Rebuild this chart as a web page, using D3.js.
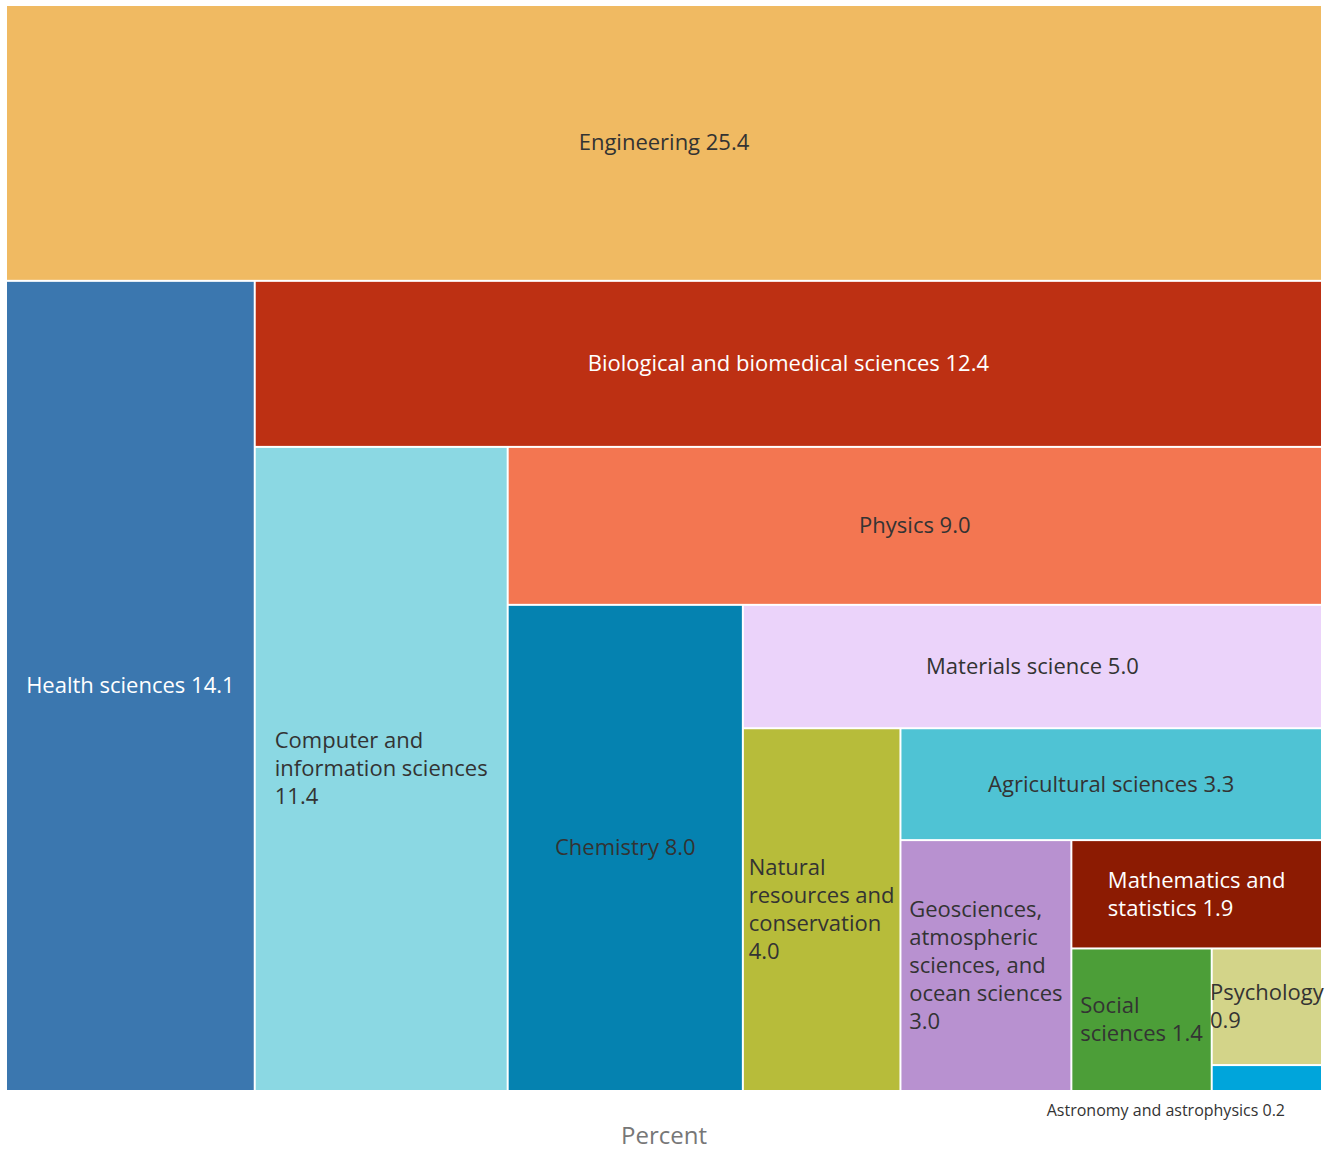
<!DOCTYPE html>
<html>
<head>
<meta charset="utf-8">
<script src="https://cdn.jsdelivr.net/npm/d3@7"></script>
<style>
  html, body { margin: 0; padding: 0; background: #fff; }
  svg { display: block; font-family: "Open Sans", "Noto Sans", sans-serif; }
</style>
</head>
<body>
<svg id="chart" width="1334" height="1151"></svg>
<script>
const categories = [
  "Engineering",
  "Health sciences",
  "Biological and biomedical sciences",
  "Computer and information sciences",
  "Physics",
  "Chemistry",
  "Materials science",
  "Natural resources and conservation",
  "Agricultural sciences",
  "Geosciences, atmospheric sciences, and ocean sciences",
  "Mathematics and statistics",
  "Social sciences",
  "Psychology",
  "Astronomy and astrophysics"
];
const values = [25.4, 14.1, 12.4, 11.4, 9.0, 8.0, 5.0, 4.0, 3.3, 3.0, 1.9, 1.4, 0.9, 0.2];
const axisTitle = "Percent";

const palette = ["#F0BA62", "#3B77AF", "#BD3013", "#8BD8E3", "#F37651", "#0582B0", "#EBD3FA",
                 "#B7BC3A", "#4FC3D4", "#B891D0", "#8C1B02", "#4C9E38", "#D3D489", "#00A5DB"];
const lightText = new Set(["Health sciences", "Biological and biomedical sciences", "Mathematics and statistics"]);

const W = 1314, H = 1084, OX = 7, OY = 6;

// Alternating strip tiling: each item takes a strip (top, then left, then top...) of the remaining area
function alternatingTile(parent, x0, y0, x1, y1) {
  const nodes = parent.children;
  let remaining = parent.value;
  nodes.forEach((node, i) => {
    if (i === nodes.length - 1) {
      node.x0 = x0; node.y0 = y0; node.x1 = x1; node.y1 = y1;
      return;
    }
    const k = node.value / remaining;
    if (i % 2 === 0) {
      const h = (y1 - y0) * k;
      node.x0 = x0; node.x1 = x1; node.y0 = y0; node.y1 = y0 + h;
      y0 += h;
    } else {
      const w = (x1 - x0) * k;
      node.y0 = y0; node.y1 = y1; node.x0 = x0; node.x1 = x0 + w;
      x0 += w;
    }
    remaining -= node.value;
  });
}

const data = { name: "root", children: categories.map((c, i) => ({ name: c, value: values[i], idx: i })) };
const root = d3.hierarchy(data).sum(d => d.value || 0);
d3.treemap().size([W, H]).tile(alternatingTile).paddingInner(2).round(false)(root);

const color = d3.scaleOrdinal().domain(categories).range(palette);

const svg = d3.select("#chart");
const g = svg.append("g").attr("transform", `translate(${OX},${OY})`);

const cells = g.selectAll("g.cell").data(root.leaves()).join("g").attr("class", "cell");
cells.append("rect")
  .attr("x", d => d.x0).attr("y", d => d.y0)
  .attr("width", d => Math.max(0, d.x1 - d.x0))
  .attr("height", d => Math.max(0, d.y1 - d.y0))
  .attr("fill", d => color(d.data.name));

const FS = 22, LH = 28;
const measurer = svg.append("text").attr("font-size", FS).attr("visibility", "hidden");
function textWidth(s) { measurer.text(s); return measurer.node().getComputedTextLength(); }

root.leaves().forEach(d => {
  const label = `${d.data.name} ${d.data.value.toFixed(1)}`;
  const w = d.x1 - d.x0, h = d.y1 - d.y0;
  const fill = lightText.has(d.data.name) ? "#ffffff" : "#333333";
  if (h < LH) {
    // too small: label placed below the chart
    g.append("text")
      .attr("x", d.x1 - 36).attr("y", H + 26)
      .attr("text-anchor", "end").attr("font-size", 16).attr("fill", "#333")
      .text(label);
    return;
  }
  const maxW = w - 4;
  const words = label.split(" ");
  const lines = [];
  let cur = "";
  words.forEach(wd => {
    const test = cur ? cur + " " + wd : wd;
    if (cur && textWidth(test) > maxW) { lines.push(cur); cur = wd; }
    else cur = test;
  });
  if (cur) lines.push(cur);
  const blockW = d3.max(lines, l => textWidth(l));
  const cx = (d.x0 + d.x1) / 2, cy = (d.y0 + d.y1) / 2;
  const left = lines.length > 1 ? cx - blockW / 2 : cx;
  const t = g.append("text")
    .attr("font-size", FS).attr("fill", fill)
    .attr("text-anchor", lines.length > 1 ? "start" : "middle");
  lines.forEach((l, i) => {
    t.append("tspan")
      .attr("x", left)
      .attr("y", cy - (lines.length - 1) * LH / 2 + i * LH + 7.5)
      .text(l);
  });
});
measurer.remove();

svg.append("text")
  .attr("x", OX + W / 2).attr("y", 1144)
  .attr("text-anchor", "middle").attr("font-size", 24).attr("fill", "#777")
  .text(axisTitle);
</script>
</body>
</html>
